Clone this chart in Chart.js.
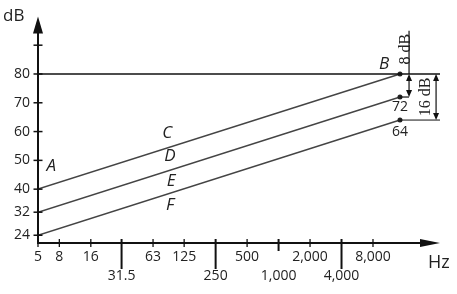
<!DOCTYPE html>
<html><head><meta charset="utf-8">
<script src="https://cdn.jsdelivr.net/npm/chart.js@4.4.1/dist/chart.umd.min.js"></script>
<style>html,body{margin:0;padding:0;background:#fff}canvas{display:block}</style>
</head><body>
<canvas id="c" width="457" height="294"></canvas>
<script>
// ---- data ----
const freqTicks  = [5, 8, 16, 31.5, 63, 125, 250, 500, 1000, 2000, 4000, 8000];
const freqLabels = ['5','8','16','31.5','63','125','250','500','1,000','2,000','4,000','8,000'];
const dbTicks    = [24, 32, 40, 50, 60, 70, 80, 90];
const dbLabels   = ['24','32','40','50','60','70','80',''];
const lineHz     = [5, 14500];
const upperDb    = [40, 80];   // A -> B
const middleDb   = [32, 72];
const lowerDb    = [24, 64];
const limitHz    = [5, 35000];
const limitDb    = [80, 80];
const refHz      = [14500, 35000];
const refDb      = [64, 64];
const diffs      = [8, 16];    // dB differences annotated

const toPts = (xs, ys) => xs.map((x, i) => ({x, y: ys[i]}));
const lowerRow = new Set([3, 6, 8, 10]);
const longTick = new Set([3, 6, 10]);

function seg(ctx, x1, y1, x2, y2){ ctx.beginPath(); ctx.moveTo(x1,y1); ctx.lineTo(x2,y2); ctx.stroke(); }
function tri(ctx, pts){ ctx.beginPath(); ctx.moveTo(pts[0],pts[1]); ctx.lineTo(pts[2],pts[3]); ctx.lineTo(pts[4],pts[5]); ctx.closePath(); ctx.fill(); }
function vArrow(ctx, x, yTop, yBot){
  seg(ctx, x, yTop + 3, x, yBot - 3);
  tri(ctx, [x, yTop, x - 3, yTop + 7, x + 3, yTop + 7]);
  tri(ctx, [x, yBot, x - 3, yBot - 7, x + 3, yBot - 7]);
}

const annot = {
  id: 'annot',
  afterDatasetsDraw(chart){
    const {ctx, chartArea: a, scales: {x, y}} = chart;
    ctx.save();
    ctx.strokeStyle = '#111'; ctx.fillStyle = '#111';
    // y axis with arrow
    ctx.lineWidth = 2;
    seg(ctx, a.left, a.bottom + 1, a.left, a.top + 8);
    tri(ctx, [a.left, a.top, a.left - 5, a.top + 17, a.left + 5, a.top + 17]);
    // x axis with arrow
    seg(ctx, a.left - 1, a.bottom, a.right - 10, a.bottom);
    tri(ctx, [a.right, a.bottom, a.right - 20, a.bottom - 4, a.right - 20, a.bottom + 4]);
    // y ticks
    ctx.lineWidth = 1.5;
    dbTicks.forEach(v => { const py = y.getPixelForValue(v); seg(ctx, a.left - 4.5, py, a.left + 4.5, py); });
    // x ticks
    freqTicks.forEach((v, i) => {
      const px = x.getPixelForValue(v);
      if (longTick.has(i)) { ctx.lineWidth = 2; seg(ctx, px, a.bottom - 4, px, a.bottom + 26); }
      else if (i === 8) { ctx.lineWidth = 2; seg(ctx, px, a.bottom - 4, px, a.bottom + 8); }
      else { ctx.lineWidth = 1.3; seg(ctx, px, a.bottom - 4, px, a.bottom + 4); }
    });
    // dimension lines
    ctx.lineWidth = 1.2;
    const xEnd = x.getPixelForValue(lineHz[1]);
    const x8 = x.getPixelForValue(17700), x16 = x.getPixelForValue(32100);
    const y80 = y.getPixelForValue(upperDb[1]);
    const y72 = y.getPixelForValue(upperDb[1] - diffs[0]);
    const y64 = y.getPixelForValue(upperDb[1] - diffs[1]);
    seg(ctx, x8, y.getPixelForValue(95), x8, y80);
    vArrow(ctx, x8, y80, y72);
    seg(ctx, xEnd, y72, x8, y72);
    vArrow(ctx, x16, y80, y64);
    // labels
    ctx.fillStyle = '#222';
    ctx.textAlign = 'center'; ctx.textBaseline = 'middle';
    ctx.font = 'italic 17px "Open Sans"';
    [['A', 6.7, 48], ['B', 10200, 83.4], ['C', 86, 59.6], ['D', 91.5, 51.4], ['E', 93.6, 42.8], ['F', 91.5, 34.6]]
      .forEach(([t, hx, db]) => ctx.fillText(t, x.getPixelForValue(hx), y.getPixelForValue(db)));
    ctx.font = '14px "Open Sans"';
    ctx.fillText(String(middleDb[1]), x.getPixelForValue(lineHz[1]), y.getPixelForValue(68.5));
    ctx.fillText(String(lowerDb[1]), x.getPixelForValue(lineHz[1]), y.getPixelForValue(59.9));
    ctx.font = '16px "Liberation Serif"';
    [[diffs[0] + ' dB', 16300, 88.6], [diffs[1] + ' dB', 25700, 72]].forEach(([t, hx, db]) => {
      ctx.save();
      ctx.translate(x.getPixelForValue(hx), y.getPixelForValue(db));
      ctx.rotate(-Math.PI / 2);
      ctx.fillText(t, 0, 0);
      ctx.restore();
    });
    ctx.textAlign = 'left';
    ctx.font = '17px "Open Sans"';
    ctx.fillText('dB', 3, 16);
    ctx.font = '18px "Open Sans"';
    ctx.fillText('Hz', 428, 263);
    ctx.restore();
  }
};

const lineStyle = {borderColor: '#444', borderWidth: 1.5, pointRadius: [0, 2.5],
  pointBackgroundColor: '#222', pointBorderWidth: 0, fill: false, tension: 0};

new Chart(document.getElementById('c'), {
  type: 'line',
  data: {datasets: [
    {data: toPts(limitHz, limitDb), borderColor: '#111', borderWidth: 1.5, pointRadius: 0},
    {data: toPts(refHz, refDb), borderColor: '#111', borderWidth: 1, pointRadius: 0},
    Object.assign({data: toPts(lineHz, upperDb)}, lineStyle),
    Object.assign({data: toPts(lineHz, middleDb)}, lineStyle),
    Object.assign({data: toPts(lineHz, lowerDb)}, lineStyle)
  ]},
  options: {
    responsive: false, animation: false,
    layout: {padding: {top: 13, right: 17, left: 0, bottom: 0}},
    plugins: {legend: {display: false}, tooltip: {enabled: false}},
    scales: {
      x: {type: 'logarithmic', min: 5, max: 35000,
        grid: {display: false, drawTicks: false}, border: {display: false},
        afterBuildTicks: s => { s.ticks = freqTicks.map(v => ({value: v})); },
        afterFit: s => { s.height = 51; },
        ticks: {autoSkip: false, maxRotation: 0, minRotation: 0, padding: 4, color: '#222',
          font: {family: 'Open Sans', size: 14, lineHeight: 1.4},
          callback: (v, i) => lowerRow.has(i) ? ['', freqLabels[i]] : freqLabels[i]}},
      y: {type: 'linear', min: 21.3, max: 100,
        grid: {display: false, drawTicks: false}, border: {display: false},
        afterBuildTicks: s => { s.ticks = dbTicks.map(v => ({value: v})); },
        afterFit: s => { s.width = 38; },
        ticks: {autoSkip: false, padding: 8, color: '#222',
          font: {family: 'Open Sans', size: 14},
          callback: (v, i) => dbLabels[i]}}
    }
  },
  plugins: [annot]
});
</script>
</body></html>
